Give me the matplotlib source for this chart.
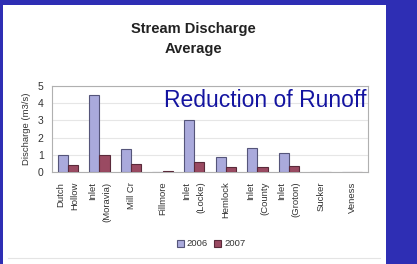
import matplotlib
matplotlib.use("Agg")
import matplotlib.pyplot as plt
from matplotlib.patches import Rectangle
import numpy as np

plt.rcParams['font.family'] = ['Liberation Sans', 'DejaVu Sans']

categories = ["Dutch\nHollow", "Inlet\n(Moravia)", "Mill Cr", "Fillmore", "Inlet\n(Locke)",
              "Hemlock", "Inlet\n(County", "Inlet\n(Groton)", "Sucker", "Veness"]
values_2006 = [1.0, 4.5, 1.35, 0.0, 3.05, 0.85, 1.4, 1.12, 0.0, 0.0]
values_2007 = [0.4, 1.0, 0.47, 0.08, 0.57, 0.27, 0.31, 0.37, 0.0, 0.0]
series_labels = ["2006", "2007"]
yticks = [0, 1, 2, 3, 4, 5]

W, H = 417, 264
fig = plt.figure(figsize=(W / 100, H / 100), dpi=100)
fig.patch.set_facecolor("#2e2eb4")

# white panel
fig.patches.append(Rectangle((3 / W, 0), (386 - 3) / W, (264 - 5) / H,
                             transform=fig.transFigure, facecolor="white",
                             edgecolor="none", zorder=-10))
fig.lines.append(plt.Line2D([8 / W, 380 / W], [1 - 258 / H, 1 - 258 / H],
                            transform=fig.transFigure, color="#e4e4e4", lw=0.8,
                            zorder=-5))

ax = fig.add_axes([52 / W, 1 - 172 / H, (368 - 52) / W, (172 - 86) / H])
ax.set_zorder(2)
ax.set_facecolor("white")
x = np.arange(len(categories))
bw = 0.32
ax.bar(x - bw / 2, values_2006, bw, color="#aaaadc", edgecolor="#55557a",
       linewidth=0.8, label=series_labels[0], zorder=3)
ax.bar(x + bw / 2, values_2007, bw, color="#9a4a62", edgecolor="#5a2a3a",
       linewidth=0.8, label=series_labels[1], zorder=3)

ax.set_xlim(-0.5, len(categories) - 0.5)
ax.set_ylim(0, 5)
ax.set_yticks(yticks)
ax.yaxis.grid(True, color="#e6e6e6", lw=0.8, zorder=0)
ax.set_axisbelow(True)
ax.set_xticks(x)
ax.set_xticklabels(categories, rotation=90, fontsize=6.8, color="#333333",
                   linespacing=1.75, va="top", ha="center", multialignment="right")
ax.tick_params(axis="x", length=0, pad=7)
ax.tick_params(axis="y", length=0, pad=6, labelsize=7.5, labelcolor="#333333")
for s in ax.spines.values():
    s.set_color("#b0b0b0")
    s.set_linewidth(0.8)
ax.set_ylabel("Discharge (m3/s)", fontsize=6.8, color="#333333", labelpad=5)

ax.text(0.995, 0.83, "Reduction of Runoff", transform=ax.transAxes,
        ha="right", va="center", fontsize=16.5, color="#1414a0")

fig.text(193 / W, 1 - 29 / H, "Stream Discharge", ha="center", va="center",
         fontsize=10.5, fontweight="bold", color="#222222")
fig.text(193 / W, 1 - 49 / H, "Average", ha="center", va="center",
         fontsize=10.5, fontweight="bold", color="#222222")

leg = fig.legend(loc="center", bbox_to_anchor=(211 / W, 1 - 244 / H), ncol=2,
                 frameon=False, fontsize=6.8, handlelength=0.8, handleheight=0.8,
                 handletextpad=0.3, columnspacing=0.6, borderpad=0)
for t in leg.get_texts():
    t.set_color("#333333")

fig.savefig("out.png", dpi=100, facecolor=fig.get_facecolor())
